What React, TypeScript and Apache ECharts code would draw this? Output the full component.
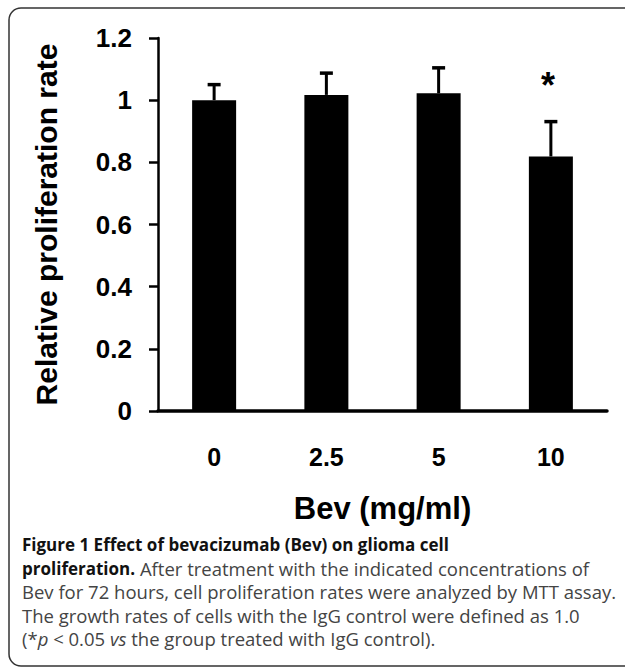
import React, { useEffect, useRef } from "react";
import * as echarts from "echarts";

const categories = ["0", "2.5", "5", "10"];
const means = [1.0, 1.017, 1.022, 0.819];
const errors = [0.05, 0.07, 0.082, 0.112];
const significance = ["", "", "", "*"];
const yMin = 0;
const yMax = 1.2;
const yInterval = 0.2;
const xTitle = "Bev (mg/ml)";
const yTitle = "Relative proliferation rate";
const captionLines = [
  "{b|Figure 1 Effect of bevacizumab (Bev) on glioma cell}",
  "{b|proliferation.}{r| After treatment with the indicated concentrations of}",
  "{r|Bev for 72 hours, cell proliferation rates were analyzed by MTT assay.}",
  "{r|The growth rates of cells with the IgG control were defined as 1.0}",
  "{r|(*}{i|p}{r| < 0.05 }{i|vs}{r| the group treated with IgG control).}",
];

export default function App() {
  const ref = useRef<HTMLDivElement>(null);
  useEffect(() => {
    const chart = echarts.init(ref.current!, null, { renderer: "svg" });
    const capFont = "Open Sans";
    const lh = 23.5;
    const option = {
      animation: false,
      backgroundColor: "#fff",
      grid: { left: 158, right: 18, top: 38, bottom: 257, containLabel: false },
      xAxis: {
        type: "category",
        data: categories,
        axisLine: { lineStyle: { color: "#000", width: 3.5 } },
        axisTick: { show: false },
        axisLabel: {
          margin: 33,
          color: "#000",
          fontFamily: "Liberation Sans",
          fontWeight: "bold",
          fontSize: 25,
        },
        name: xTitle,
        nameLocation: "middle",
        nameGap: 82,
        nameTextStyle: {
          color: "#000",
          fontFamily: "Liberation Sans",
          fontWeight: "bold",
          fontSize: 31,
        },
      },
      yAxis: {
        type: "value",
        min: yMin,
        max: yMax,
        interval: yInterval,
        splitLine: { show: false },
        axisLine: { show: true, lineStyle: { color: "#000", width: 2.5 } },
        axisTick: { show: true, length: 9, lineStyle: { color: "#000", width: 2.5 } },
        axisLabel: {
          margin: 26,
          color: "#000",
          fontFamily: "Liberation Sans",
          fontWeight: "bold",
          fontSize: 26,
        },
        name: yTitle,
        nameLocation: "middle",
        nameGap: 97,
        nameTextStyle: {
          color: "#000",
          fontFamily: "Liberation Sans",
          fontWeight: "bold",
          fontSize: 30,
        },
      },
      series: [
        {
          type: "bar",
          data: means,
          barWidth: 44,
          itemStyle: { color: "#000" },
        },
        {
          type: "custom",
          data: means.map((m, i) => [i, m, errors[i]]),
          z: 3,
          renderItem: (params: any, api: any) => {
            const x = api.value(0);
            const top = api.value(1);
            const err = api.value(2);
            const p0 = api.coord([x, top]);
            const p1 = api.coord([x, top + err]);
            const half = 6.5;
            const children: any[] = [
              {
                type: "line",
                shape: { x1: p0[0], y1: p0[1], x2: p1[0], y2: p1[1] },
                style: { stroke: "#000", lineWidth: 3 },
              },
              {
                type: "line",
                shape: { x1: p1[0] - half, y1: p1[1], x2: p1[0] + half, y2: p1[1] },
                style: { stroke: "#000", lineWidth: 3.5 },
              },
            ];
            const s = significance[params.dataIndex];
            if (s) {
              children.push({
                type: "text",
                x: p1[0] - 3,
                y: p1[1] - 36,
                style: {
                  text: s,
                  fill: "#000",
                  font: "bold 36px 'Liberation Sans'",
                  textAlign: "center",
                  textVerticalAlign: "middle",
                },
              });
            }
            return { type: "group", children };
          },
        },
      ],
      graphic: [
        {
          type: "rect",
          shape: { x: 9, y: 8, width: 640, height: 658, r: 12 },
          style: { fill: "none", stroke: "#333", lineWidth: 1.5 },
          silent: true,
        },
        {
          type: "text",
          x: 22,
          y: 533,
          style: {
            text: captionLines.join("\n"),
            rich: {
              b: { fontFamily: capFont, fontWeight: "bold", fontSize: 17, fill: "#111", lineHeight: lh },
              r: { fontFamily: capFont, fontSize: 18.5, fill: "#444", lineHeight: lh },
              i: { fontFamily: capFont, fontStyle: "italic", fontSize: 18.5, fill: "#444", lineHeight: lh },
            },
          },
        },
      ],
    };
    chart.setOption(option as any);
    return () => chart.dispose();
  }, []);
  return (
    <div
      ref={ref}
      style={{ position: "absolute", left: 0, top: 0, width: 625, height: 668, background: "#fff" }}
    />
  );
}
